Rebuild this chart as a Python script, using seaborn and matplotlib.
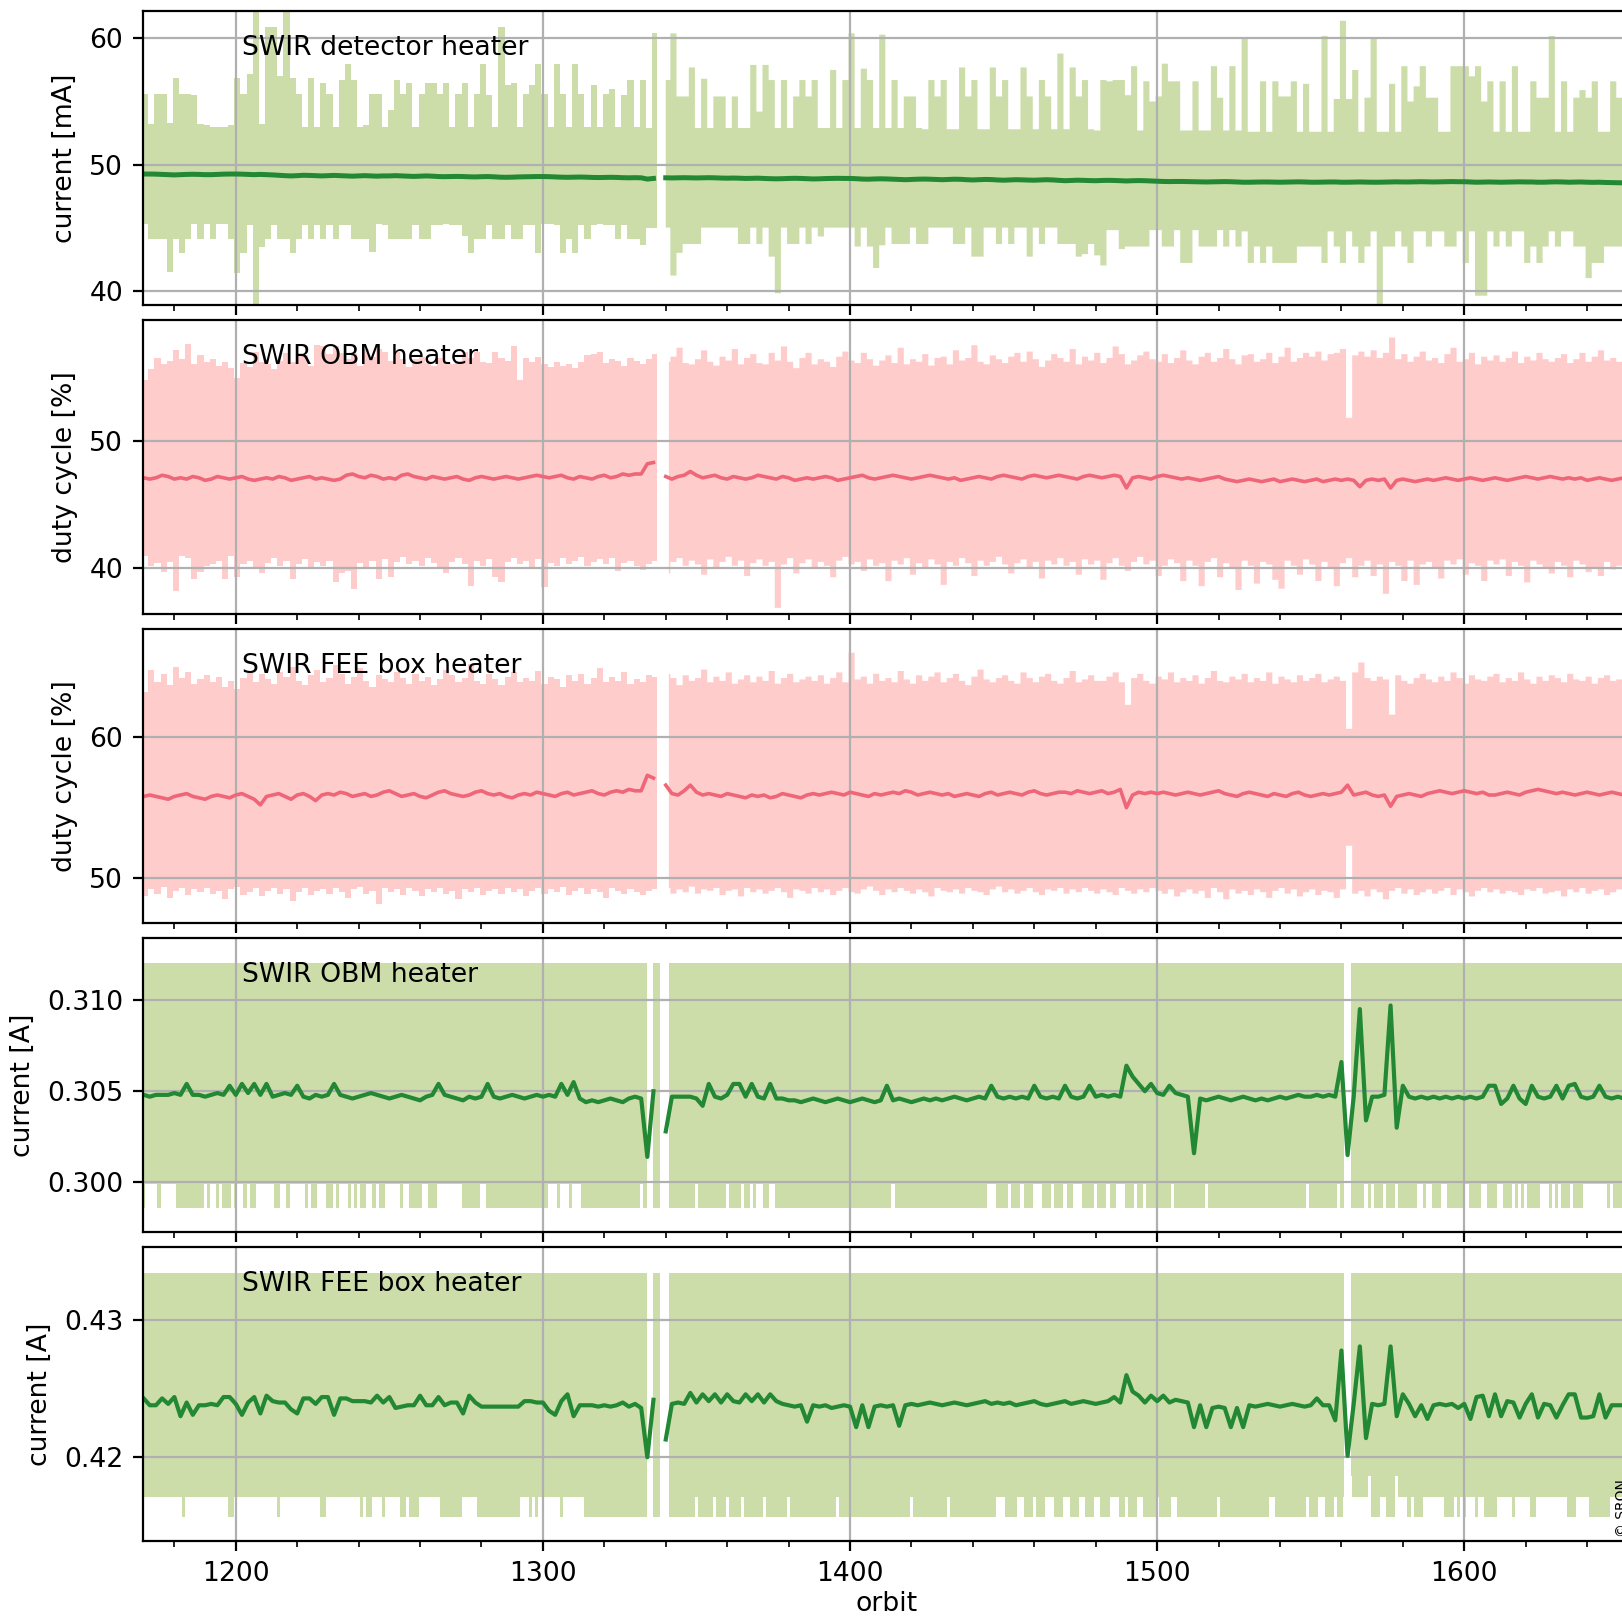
import numpy as np
import pandas as pd
import seaborn as sns
import matplotlib
matplotlib.use("Agg")
from matplotlib import pyplot as plt
from matplotlib.ticker import MultipleLocator

# values are given per orbit pair: 1170, 1172, ..., 1652
orbits = np.arange(1170, 1653, 2)

# SWIR detector heater current [mA]
p1_max = [
    55.6, 53.2, 55.6, 55.6, 53.3, 56.9, 55.6, 55.6, 55.5, 53.2,
    53.1, 53.0, 53.0, 53.0, 53.1, 56.9, 55.6, 57.2, 62.5, 53.2,
    60.9, 60.9, 57.0, 62.5, 56.9, 55.6, 53.0, 56.9, 53.0, 56.5,
    55.6, 53.0, 56.7, 58.0, 56.7, 53.0, 53.1, 55.6, 55.6, 53.0,
    54.3, 56.7, 55.6, 56.5, 53.0, 55.6, 56.5, 56.5, 55.6, 56.5,
    53.0, 55.6, 56.5, 53.0, 55.6, 58.0, 55.5, 53.0, 60.9, 56.3,
    56.5, 53.0, 55.6, 56.3, 58.0, 55.6, 53.0, 58.0, 55.6, 53.0,
    58.0, 55.6, 53.0, 56.3, 53.0, 55.6, 56.0, 53.0, 55.5, 56.7,
    53.0, 56.7, 52.9, 60.4, 52.9, 56.7, 60.4, 55.4, 55.4, 57.7,
    52.9, 56.8, 52.9, 55.4, 55.4, 52.9, 55.4, 52.9, 52.9, 57.9,
    54.2, 57.9, 56.7, 52.9, 56.7, 52.9, 55.4, 56.7, 55.4, 56.7,
    52.9, 52.9, 57.5, 52.9, 56.7, 60.4, 52.9, 57.6, 56.7, 52.9,
    60.3, 52.9, 56.7, 52.9, 55.4, 55.4, 52.9, 52.8, 56.7, 55.4,
    56.7, 52.8, 52.8, 57.7, 55.4, 56.7, 52.8, 52.8, 57.7, 55.4,
    56.7, 52.8, 52.8, 57.7, 55.4, 52.8, 56.7, 55.4, 52.8, 58.8,
    52.8, 57.7, 55.4, 56.7, 52.8, 52.7, 56.7, 56.6, 56.7, 56.7,
    55.5, 57.8, 52.7, 56.6, 55.0, 55.4, 58.0, 56.6, 56.6, 52.7,
    52.7, 56.6, 52.7, 52.7, 57.8, 55.3, 52.7, 57.8, 52.7, 60.1,
    52.6, 52.6, 56.6, 52.6, 56.6, 55.4, 55.4, 56.6, 52.6, 56.4,
    52.6, 52.6, 60.2, 52.6, 55.2, 61.4, 55.2, 57.5, 52.6, 55.3,
    60.1, 52.6, 52.6, 56.4, 52.6, 57.8, 55.0, 56.2, 57.8, 55.3,
    55.3, 52.6, 52.6, 57.8, 57.8, 57.8, 57.0, 57.8, 55.0, 56.6,
    52.6, 56.6, 52.6, 57.8, 52.6, 52.6, 56.6, 55.3, 55.3, 60.2,
    52.6, 56.6, 52.6, 55.3, 55.9, 55.3, 56.6, 52.6, 52.6, 56.6,
    55.3, 52.6,
]
p1_min = [
    45.3, 44.1, 44.1, 44.1, 41.5, 44.1, 43.0, 44.1, 45.3, 44.1,
    45.3, 44.1, 45.3, 45.3, 44.1, 41.4, 43.0, 45.2, 38.5, 43.5,
    44.1, 45.2, 44.1, 44.1, 43.0, 44.1, 45.2, 44.1, 45.2, 44.1,
    45.2, 44.1, 45.2, 45.2, 44.1, 44.1, 44.1, 43.1, 45.3, 45.2,
    44.1, 44.1, 44.1, 44.1, 45.2, 44.1, 44.1, 45.2, 45.2, 45.3,
    45.2, 45.2, 44.3, 43.0, 44.1, 44.1, 45.2, 44.1, 44.1, 45.2,
    44.1, 44.1, 45.2, 45.2, 43.0, 45.3, 45.3, 45.2, 43.0, 44.1,
    43.0, 45.2, 44.1, 45.2, 45.3, 45.2, 45.2, 44.1, 45.2, 44.1,
    44.1, 43.6, 45.0, 45.0, 45.0, 45.0, 41.2, 43.0, 43.7, 43.7,
    43.7, 45.0, 45.0, 45.0, 45.0, 45.0, 45.0, 43.7, 43.7, 45.0,
    43.7, 45.0, 42.7, 39.8, 45.0, 43.7, 43.7, 45.0, 43.7, 45.0,
    44.3, 45.0, 45.0, 45.0, 45.0, 45.0, 43.5, 45.0, 43.5, 41.8,
    43.6, 45.0, 43.7, 43.7, 43.7, 45.0, 43.7, 43.7, 45.0, 45.0,
    45.0, 45.0, 43.7, 43.7, 45.0, 42.7, 42.7, 45.0, 45.0, 43.7,
    45.0, 43.7, 45.0, 45.0, 42.7, 45.0, 43.7, 45.0, 45.0, 43.7,
    43.7, 43.7, 42.7, 42.9, 43.7, 42.8, 42.0, 44.8, 44.8, 43.3,
    43.5, 43.5, 43.5, 43.5, 44.8, 44.8, 43.5, 43.5, 44.8, 42.2,
    42.2, 44.8, 43.5, 43.5, 43.5, 44.8, 43.5, 44.8, 43.5, 44.7,
    42.2, 43.5, 42.2, 43.5, 42.2, 42.2, 42.2, 42.2, 43.5, 43.5,
    43.5, 43.5, 42.2, 44.7, 43.5, 42.2, 44.7, 43.5, 42.2, 43.5,
    44.7, 38.5, 43.5, 43.5, 44.7, 43.5, 42.2, 44.7, 44.7, 43.5,
    44.7, 44.7, 43.5, 43.5, 44.7, 42.2, 44.7, 39.6, 39.6, 44.7,
    43.5, 44.7, 43.5, 44.7, 44.7, 42.2, 43.5, 42.2, 43.5, 44.7,
    43.5, 44.7, 44.7, 43.5, 43.5, 41.0, 42.2, 42.2, 43.5, 43.5,
    43.5, 43.5,
]
p1_med = [
    49.25, 49.25, 49.24, 49.22, 49.2, 49.18, 49.2, 49.22, 49.23, 49.22,
    49.2, 49.2, 49.22, 49.24, 49.25, 49.25, 49.24, 49.22, 49.2, 49.22,
    49.2, 49.18, 49.15, 49.12, 49.1, 49.12, 49.15, 49.14, 49.12, 49.1,
    49.12, 49.14, 49.12, 49.1, 49.08, 49.1, 49.12, 49.1, 49.08, 49.1,
    49.1, 49.12, 49.1, 49.08, 49.06, 49.08, 49.1, 49.08, 49.05, 49.04,
    49.05, 49.06, 49.05, 49.03, 49.02, 49.04, 49.05, 49.03, 49.0, 48.99,
    49.0, 49.02, 49.03, 49.04, 49.05, 49.05, 49.04, 49.02, 49.0, 48.99,
    49.0, 49.01, 49.0, 48.98, 48.97, 48.98, 48.99, 48.98, 48.96, 48.95,
    48.96, 48.95, 48.85, 48.9, np.nan, 48.95, 48.94, 48.95, 48.96, 48.95,
    48.94, 48.95, 48.96, 48.95, 48.93, 48.92, 48.93, 48.92, 48.9, 48.91,
    48.92, 48.9, 48.88, 48.87, 48.88, 48.9, 48.91, 48.9, 48.88, 48.86,
    48.87, 48.89, 48.9, 48.91, 48.9, 48.9, 48.88, 48.85, 48.84, 48.86,
    48.87, 48.86, 48.84, 48.82, 48.8, 48.82, 48.84, 48.85, 48.84, 48.82,
    48.8, 48.82, 48.84, 48.83, 48.8, 48.78, 48.8, 48.82, 48.81, 48.78,
    48.76, 48.78, 48.8, 48.79, 48.77, 48.76, 48.78, 48.8, 48.78, 48.75,
    48.72, 48.74, 48.76, 48.75, 48.73, 48.72, 48.74, 48.75, 48.74, 48.72,
    48.7, 48.72, 48.73, 48.72, 48.7, 48.68, 48.66, 48.65, 48.66, 48.66,
    48.65, 48.64, 48.63, 48.62, 48.63, 48.64, 48.65, 48.64, 48.62, 48.6,
    48.6, 48.61, 48.62, 48.62, 48.61, 48.6, 48.61, 48.62, 48.63, 48.62,
    48.6, 48.6, 48.61, 48.62, 48.62, 48.6, 48.6, 48.61, 48.62, 48.61,
    48.6, 48.6, 48.61, 48.62, 48.63, 48.62, 48.62, 48.63, 48.64, 48.63,
    48.62, 48.63, 48.64, 48.65, 48.64, 48.64, 48.62, 48.6, 48.61, 48.62,
    48.61, 48.6, 48.61, 48.62, 48.63, 48.62, 48.62, 48.6, 48.6, 48.62,
    48.63, 48.62, 48.6, 48.61, 48.62, 48.6, 48.59, 48.6, 48.58, 48.57,
    48.56, 48.55,
]

# SWIR OBM heater duty cycle [%]
p2_max = [
    54.8, 55.6, 56.5, 56.0, 56.3, 57.1, 56.4, 57.6, 56.0, 56.7,
    56.2, 56.4, 55.9, 56.2, 55.7, 54.9, 56.1, 55.8, 57.0, 56.2,
    56.0, 55.6, 56.3, 56.9, 56.2, 56.9, 56.7, 55.9, 57.5, 57.4,
    56.8, 57.4, 56.9, 56.4, 56.9, 55.9, 57.2, 56.6, 57.2, 57.0,
    56.3, 57.0, 56.4, 55.8, 56.4, 56.6, 56.1, 55.9, 56.5, 56.1,
    56.0, 56.3, 57.0, 56.5, 57.0, 56.2, 56.1, 57.0, 56.5, 56.3,
    57.4, 54.8, 56.5, 56.2, 56.6, 56.0, 55.8, 56.2, 55.9, 56.0,
    55.7, 56.2, 56.7, 56.8, 57.0, 56.1, 56.4, 56.3, 55.9, 56.5,
    56.3, 56.0, 56.4, 56.8, 56.5, 56.2, 56.6, 57.3, 56.1, 56.0,
    56.4, 57.1, 56.2, 55.9, 56.6, 56.3, 57.2, 56.0, 56.5, 56.8,
    56.1, 56.0, 56.9, 56.3, 57.4, 56.2, 55.7, 56.5, 56.9, 56.0,
    56.4, 56.2, 55.8, 56.6, 57.0, 56.3, 56.1, 56.9, 56.4, 55.9,
    56.3, 56.7, 56.1, 57.3, 56.0, 56.4, 56.2, 56.8, 55.9, 56.5,
    56.6, 56.0, 57.1, 56.3, 56.5, 57.5, 56.2, 56.0, 56.7, 56.4,
    56.1, 56.6, 56.9, 56.2, 57.0, 56.4, 55.8, 56.3, 56.8, 56.5,
    56.2, 57.2, 56.0, 56.6, 56.3, 56.9, 56.1, 56.5, 57.4, 56.8,
    56.0, 56.3, 56.7, 57.0, 56.4, 56.2, 56.8, 56.1, 56.5, 57.1,
    56.3, 56.0, 56.6, 56.9, 56.2, 56.5, 57.2, 56.4, 56.0, 56.7,
    56.8, 56.2, 56.4, 56.9, 56.1, 56.6, 57.3, 56.2, 56.5, 56.9,
    56.6, 57.0, 56.3, 56.8, 56.9, 57.2, 51.8, 56.7, 57.0, 56.6,
    57.1, 56.5, 56.9, 58.1, 56.4, 56.8, 56.2, 56.6, 57.0, 56.3,
    56.5, 56.1, 56.8, 57.3, 56.2, 56.4, 56.9, 56.0, 56.6, 56.3,
    56.7, 56.2, 56.5, 57.0, 56.1, 56.6, 56.3, 56.9, 56.4, 56.2,
    56.5, 56.8, 56.1, 56.4, 56.9, 56.2, 56.6, 57.1, 56.3, 56.5,
    56.2, 56.6,
]
p2_min = [
    41.0, 40.2, 40.4, 39.7, 40.5, 38.2, 41.0, 40.8, 39.2, 39.7,
    40.2, 40.3, 40.6, 39.2, 41.0, 39.3, 40.3, 40.6, 40.1, 39.6,
    40.4, 40.8, 40.2, 40.6, 39.2, 40.3, 40.7, 40.1, 40.5, 40.2,
    40.6, 38.9, 39.6, 39.8, 38.4, 40.4, 40.1, 40.6, 39.2, 40.7,
    39.3, 40.5, 40.9, 40.3, 40.6, 40.2, 40.8, 40.4, 40.1, 39.6,
    40.5, 40.8, 40.3, 38.6, 40.6, 40.2, 40.7, 39.3, 38.9, 40.5,
    40.8, 40.3, 40.6, 40.1, 40.7, 38.5, 40.4, 40.2, 40.8, 40.3,
    40.6, 40.9, 40.2, 40.5, 40.7, 40.3, 40.8, 39.8, 40.4, 40.6,
    40.2, 39.9, 40.3, 40.6, 40.2, 39.6, 40.5, 40.8, 40.2, 40.6,
    40.3, 39.5, 40.7, 40.1, 40.5, 40.9, 40.2, 40.6, 39.4, 40.4,
    40.7, 40.2, 40.5, 36.9, 40.3, 40.8, 39.6, 40.4, 40.7, 40.1,
    40.5, 40.2, 39.3, 40.6, 40.9, 40.3, 40.5, 39.8, 40.7, 40.2,
    40.4, 39.0, 40.6, 40.3, 40.8, 39.5, 40.4, 40.1, 40.7, 40.3,
    38.7, 40.5, 40.2, 40.8, 40.4, 39.4, 40.6, 40.2, 40.5, 40.9,
    40.3, 39.6, 40.4, 40.7, 40.1, 40.5, 39.2, 40.6, 40.3, 40.8,
    40.2, 40.5, 39.5, 40.7, 40.3, 40.6, 39.1, 40.4, 40.8, 40.2,
    39.8, 40.5, 40.9, 40.3, 40.6, 39.4, 40.2, 40.7, 40.4, 39.0,
    40.6, 40.2, 38.6, 40.5, 40.8, 39.3, 40.4, 40.1, 38.3, 40.6,
    40.2, 38.8, 40.5, 40.3, 39.1, 38.4, 40.6, 40.2, 39.5, 40.7,
    40.3, 39.0, 40.5, 40.1, 38.6, 40.4, 40.8, 39.3, 40.2, 40.6,
    39.4, 40.3, 38.0, 40.5, 40.2, 39.0, 40.6, 38.7, 40.3, 40.5,
    40.1, 39.2, 40.6, 40.3, 40.7, 39.5, 40.4, 40.2, 39.0, 40.6,
    40.3, 40.7, 39.4, 40.5, 40.2, 38.9, 40.6, 40.3, 40.1, 39.6,
    40.5, 40.2, 39.3, 40.6, 40.3, 39.7, 40.1, 39.4, 40.5, 39.9,
    40.2, 39.5,
]
p2_med = [
    47.1, 47.0, 47.1, 47.3, 47.2, 47.0, 47.1, 47.0, 47.2, 47.1,
    46.9, 47.0, 47.2, 47.1, 47.0, 47.1, 47.2, 47.0, 46.9, 47.0,
    47.1, 47.0, 47.2, 47.1, 46.9, 47.0, 47.1, 47.2, 47.0, 47.1,
    47.0, 46.9, 47.0, 47.3, 47.4, 47.2, 47.1, 47.3, 47.2, 47.0,
    47.1, 47.0, 47.3, 47.4, 47.2, 47.1, 47.0, 47.2, 47.1, 47.0,
    47.1, 47.2, 47.0, 46.9, 47.1, 47.2, 47.1, 47.0, 47.1, 47.2,
    47.1, 47.0, 47.1, 47.2, 47.3, 47.2, 47.1, 47.2, 47.3, 47.1,
    47.0, 47.2, 47.1, 47.0, 47.2, 47.3, 47.1, 47.2, 47.4, 47.3,
    47.4, 47.4, 48.2, 48.3, np.nan, 47.2, 47.0, 47.2, 47.3, 47.6,
    47.3, 47.1, 47.2, 47.3, 47.1, 47.0, 47.2, 47.1, 47.0, 47.1,
    47.3, 47.2, 47.1, 47.0, 47.2, 47.1, 46.9, 47.0, 47.1, 47.0,
    47.1, 47.2, 47.1, 46.9, 47.0, 47.1, 47.2, 47.3, 47.1, 47.0,
    47.1, 47.2, 47.3, 47.2, 47.1, 47.0, 47.1, 47.2, 47.3, 47.2,
    47.1, 47.0, 47.1, 46.9, 47.0, 47.1, 47.2, 47.1, 47.0, 47.2,
    47.3, 47.2, 47.1, 47.0, 47.2, 47.3, 47.2, 47.1, 47.2, 47.3,
    47.2, 47.1, 47.0, 47.2, 47.3, 47.2, 47.1, 47.2, 47.3, 47.2,
    46.3, 47.1, 47.2, 47.1, 47.0, 47.2, 47.3, 47.2, 47.1, 47.0,
    47.1, 47.0, 46.9, 47.0, 47.1, 47.2, 47.0, 46.9, 46.8, 46.9,
    47.0, 46.9, 46.8, 46.9, 47.0, 46.8, 46.9, 47.0, 46.9, 46.8,
    46.9, 47.0, 46.8, 46.9, 47.0, 46.9, 47.0, 46.9, 46.4, 46.9,
    47.0, 46.9, 47.0, 46.3, 46.9, 47.0, 46.9, 46.8, 46.9, 47.0,
    46.9, 47.0, 47.1, 47.0, 46.9, 47.0, 47.1, 47.0, 46.9, 47.0,
    47.1, 47.0, 46.9, 47.0, 47.1, 47.2, 47.1, 47.0, 47.1, 47.2,
    47.1, 47.0, 47.1, 47.0, 47.1, 46.9, 47.0, 47.1, 47.0, 46.9,
    47.0, 47.1,
]

# SWIR FEE box heater duty cycle [%]
p3_max = [
    63.2, 64.8, 63.9, 64.5, 63.7, 65.0, 64.2, 64.6, 63.8, 64.1,
    64.4, 63.9, 64.3, 63.6, 64.0, 63.4, 64.2, 64.7, 63.9, 64.5,
    64.1, 63.8, 64.6, 64.3, 65.0, 64.0, 63.7, 64.4, 64.8, 63.9,
    64.2, 65.1, 64.5, 63.8, 64.3, 64.9, 64.0, 63.6, 64.4, 64.1,
    63.9, 64.6, 64.2, 63.8, 64.5, 64.0, 64.3, 63.7, 64.1, 64.8,
    64.4, 63.9, 64.2, 65.2, 64.0, 63.8, 64.5, 64.1, 63.7, 64.3,
    64.6, 63.9, 64.2, 64.0, 64.7, 63.8, 64.3, 64.1, 63.6, 64.4,
    64.0, 64.5, 63.8, 64.2, 64.9, 63.9, 64.3, 64.0, 64.6, 63.8,
    64.1, 63.9, 64.4, 64.3, 64.0, 64.5, 64.2, 63.7, 64.4, 64.0,
    64.2, 64.8, 63.9, 64.3, 64.0, 64.6, 63.8, 64.1, 64.4, 63.9,
    64.3, 64.0, 64.7, 63.8, 64.2, 64.5, 63.9, 64.1, 64.3, 64.0,
    64.4, 63.8, 64.2, 64.6, 63.9, 66.0, 64.1, 64.3, 63.8, 64.5,
    64.0, 64.2, 63.9, 64.7, 64.1, 63.8, 64.4, 64.0, 64.3, 64.6,
    63.9, 64.2, 64.5, 64.0, 63.7, 64.3, 64.8, 64.1, 63.9, 64.2,
    64.4, 64.0, 63.8, 64.6, 64.2, 63.9, 64.3, 64.5, 64.0, 63.8,
    64.2, 64.7, 63.9, 64.1, 64.4, 64.0, 64.0, 64.3, 64.6, 63.9,
    62.3, 64.2, 64.5, 64.0, 63.8, 64.3, 64.1, 64.6, 63.9, 64.2,
    64.0, 64.4, 63.8, 64.2, 64.7, 64.0, 63.9, 64.3, 64.1, 64.5,
    63.9, 64.2, 64.0, 64.6, 63.8, 64.3, 64.1, 63.9, 64.4, 64.0,
    64.2, 64.5, 63.9, 64.1, 64.3, 64.0, 60.6, 64.6, 65.3, 64.2,
    64.0, 64.3, 64.1, 61.6, 64.4, 64.0, 63.8, 64.2, 64.5, 64.1,
    63.9, 64.3, 64.0, 64.6, 64.2, 63.8, 64.4, 64.1, 64.0, 64.3,
    64.5, 63.9, 64.2, 64.0, 64.6, 64.1, 63.8, 64.3, 64.0, 64.4,
    64.2, 63.9, 64.5, 64.1, 64.0, 64.3, 63.8, 64.2, 64.4, 64.0,
    64.1, 64.3,
]
p3_min = [
    48.7, 49.2, 48.9, 49.4, 48.6, 49.1, 49.3, 48.8, 49.2, 49.0,
    49.3, 48.9, 49.1, 48.5, 49.2, 49.4, 48.8, 49.0, 49.3, 48.7,
    49.1, 49.3, 48.9, 49.2, 48.4, 49.0, 49.3, 48.8, 49.1, 49.2,
    48.9, 49.3, 49.0, 48.6, 49.2, 49.4, 48.9, 49.1, 48.2, 49.3,
    49.0, 49.2, 48.8, 49.3, 49.1, 48.7, 49.2, 49.0, 49.3, 48.9,
    49.1, 48.5, 49.2, 49.0, 49.3, 48.8, 49.1, 49.2, 48.9, 49.3,
    49.0, 49.2, 48.7, 49.1, 49.3, 48.9, 49.2, 49.0, 49.4, 48.8,
    49.1, 49.3, 48.9, 49.2, 49.0, 48.6, 49.3, 49.1, 48.9, 49.2,
    49.0, 48.8, 49.1, 49.2, 49.1, 49.3, 48.9, 49.2, 49.0, 49.4,
    48.9, 49.2, 49.1, 49.3, 48.8, 49.1, 49.2, 48.7, 49.3, 49.0,
    49.2, 48.9, 49.1, 49.3, 49.0, 48.6, 49.2, 49.1, 48.9, 49.3,
    49.0, 49.2, 48.8, 49.1, 49.3, 49.0, 48.9, 49.2, 49.4, 49.1,
    48.8, 49.2, 49.0, 49.3, 49.1, 48.9, 49.2, 49.0, 48.7, 49.3,
    49.1, 49.0, 49.2, 48.9, 49.3, 49.1, 49.0, 48.8, 49.2, 49.4,
    49.0, 49.2, 48.9, 49.1, 49.3, 49.0, 48.8, 49.2, 49.1, 49.3,
    48.9, 49.2, 49.0, 49.3, 49.1, 48.9, 49.2, 49.0, 48.8, 49.3,
    49.1, 48.9, 49.2, 49.0, 49.3, 49.1, 48.9, 49.2, 48.7, 49.0,
    49.2, 48.9, 49.1, 48.6, 49.3, 49.0, 48.5, 49.2, 48.9, 49.1,
    48.8, 49.2, 49.0, 48.6, 49.1, 49.3, 48.9, 49.2, 48.7, 49.0,
    49.2, 48.8, 49.1, 49.0, 48.6, 49.2, 52.3, 48.9, 49.1, 48.7,
    49.2, 49.0, 48.5, 49.1, 49.3, 48.9, 49.2, 48.8, 49.0, 49.2,
    48.9, 49.1, 49.3, 48.8, 49.2, 49.0, 48.7, 49.1, 49.3, 49.0,
    49.2, 48.9, 49.1, 49.0, 48.8, 49.2, 49.1, 49.3, 48.9, 49.0,
    49.1, 48.7, 49.2, 49.0, 49.3, 48.9, 49.1, 49.2, 48.8, 49.0,
    49.2, 49.0,
]
p3_med = [
    55.8, 55.9, 55.8, 55.7, 55.6, 55.8, 55.9, 56.0, 55.8, 55.7,
    55.6, 55.8, 55.9, 55.8, 55.7, 55.9, 56.0, 55.8, 55.6, 55.2,
    55.8, 55.9, 56.0, 55.8, 55.6, 55.9, 56.0, 55.8, 55.5, 55.9,
    56.0, 55.9, 56.1, 56.0, 55.8, 55.9, 56.0, 55.8, 55.9, 56.1,
    56.2, 56.0, 55.8, 55.9, 56.0, 55.8, 55.7, 55.9, 56.1, 56.2,
    56.0, 55.9, 55.8, 55.9, 56.1, 56.2, 56.0, 55.9, 56.0, 55.8,
    55.7, 55.9, 56.0, 55.9, 56.1, 56.0, 55.9, 55.8, 56.0, 56.1,
    55.9, 56.0, 56.1, 56.2, 56.0, 55.9, 56.1, 56.2, 56.1, 56.3,
    56.2, 56.2, 57.3, 57.1, np.nan, 56.6, 56.0, 55.9, 56.2, 56.6,
    56.1, 55.9, 56.0, 55.9, 55.8, 56.0, 55.9, 55.8, 55.7, 55.9,
    55.8, 55.9, 55.7, 55.8, 56.0, 55.9, 55.8, 55.7, 55.9, 56.0,
    55.9, 56.0, 56.1, 56.0, 55.9, 56.1, 56.0, 55.9, 55.8, 56.0,
    55.9, 56.0, 56.1, 56.0, 56.2, 56.1, 55.9, 56.0, 56.1, 56.0,
    55.9, 56.0, 55.8, 55.9, 56.0, 55.9, 55.8, 56.0, 56.1, 55.9,
    56.0, 56.1, 56.0, 55.9, 56.1, 56.2, 56.0, 55.9, 56.0, 56.1,
    56.1, 56.0, 56.2, 56.1, 56.0, 56.1, 56.2, 56.0, 56.1, 56.3,
    55.0, 55.9, 56.1, 56.0, 56.1, 56.0, 56.1, 56.0, 55.9, 56.0,
    56.1, 56.0, 55.9, 56.0, 56.1, 56.2, 56.0, 55.9, 55.8, 56.0,
    56.1, 56.0, 55.9, 55.8, 56.0, 55.9, 55.8, 56.0, 56.1, 55.9,
    55.8, 55.9, 56.0, 55.9, 56.0, 56.1, 56.6, 55.9, 56.0, 56.1,
    55.9, 55.8, 55.9, 55.1, 55.8, 55.9, 56.0, 55.9, 55.8, 56.0,
    56.1, 56.2, 56.1, 56.0, 56.1, 56.2, 56.1, 56.0, 56.1, 55.9,
    55.9, 56.0, 56.1, 56.0, 55.9, 56.1, 56.2, 56.3, 56.2, 56.1,
    56.0, 56.1, 56.0, 55.9, 56.0, 56.1, 56.0, 55.9, 56.0, 56.1,
    56.0, 55.9,
]

# SWIR OBM heater current [A]
p4_max_level = 0.3120
p4_min_levels = (0.2986, 0.2999)
p4_notches = [
    (1171, 1174), (1176, 1180), (1190, 1190), (1192, 1193), (1195, 1195),
    (1199, 1199), (1201, 1202), (1204, 1204), (1207, 1212), (1215, 1216),
    (1218, 1222), (1224, 1224), (1227, 1229), (1232, 1232), (1234, 1236),
    (1238, 1238), (1240, 1240), (1243, 1244), (1246, 1246), (1249, 1253),
    (1255, 1256), (1261, 1262), (1266, 1273), (1280, 1281), (1302, 1304),
    (1306, 1308), (1310, 1312), (1332, 1332), (1350, 1350), (1360, 1360),
    (1365, 1365), (1368, 1368), (1370, 1371), (1374, 1375), (1414, 1414),
    (1445, 1447), (1452, 1452), (1456, 1456), (1460, 1462), (1466, 1466),
    (1470, 1470), (1473, 1475), (1480, 1480), (1484, 1484), (1487, 1489),
    (1493, 1493), (1496, 1496), (1505, 1505), (1516, 1516), (1549, 1549),
    (1559, 1559), (1568, 1568), (1570, 1570), (1574, 1574), (1578, 1578),
    (1585, 1586), (1588, 1589), (1593, 1594), (1600, 1601), (1606, 1607),
    (1611, 1612), (1616, 1616), (1618, 1618), (1620, 1620), (1625, 1627),
    (1629, 1629), (1631, 1631), (1635, 1635), (1639, 1646), (1648, 1648),
]
p4_med = [
    .3048, .3047, .3048, .3048, .3048, .3049, .3048, .3054, .3048, .3048,
    .3047, .3048, .3049, .3048, .3053, .3048, .3054, .3049, .3054, .3048,
    .3054, .3047, .3048, .3049, .3048, .3053, .3047, .3046, .3048, .3047,
    .3048, .3054, .3048, .3047, .3046, .3047, .3048, .3049, .3048, .3047,
    .3046, .3047, .3048, .3047, .3046, .3045, .3047, .3048, .3054, .3048,
    .3047, .3046, .3045, .3047, .3046, .3047, .3054, .3047, .3046, .3047,
    .3048, .3047, .3046, .3047, .3048, .3047, .3048, .3047, .3054, .3048,
    .3055, .3046, .3044, .3045, .3044, .3045, .3046, .3045, .3044, .3046,
    .3047, .3046, .3014, .3050, np.nan, .3028, .3047, .3047, .3047, .3047,
    .3046, .3042, .3054, .3047, .3046, .3048, .3054, .3054, .3047, .3054,
    .3047, .3046, .3054, .3046, .3046, .3045, .3045, .3044, .3045, .3046,
    .3045, .3044, .3045, .3046, .3045, .3044, .3045, .3046, .3045, .3044,
    .3045, .3053, .3045, .3046, .3045, .3044, .3045, .3046, .3045, .3046,
    .3045, .3046, .3047, .3046, .3045, .3046, .3047, .3046, .3053, .3047,
    .3046, .3047, .3046, .3047, .3046, .3053, .3047, .3046, .3047, .3046,
    .3053, .3047, .3046, .3047, .3053, .3047, .3048, .3047, .3048, .3047,
    .3064, .3058, .3054, .3050, .3054, .3049, .3048, .3053, .3049, .3048,
    .3047, .3016, .3046, .3045, .3046, .3047, .3046, .3045, .3046, .3047,
    .3046, .3045, .3046, .3045, .3046, .3047, .3046, .3047, .3048, .3047,
    .3047, .3048, .3047, .3048, .3047, .3066, .3015, .3047, .3095, .3034,
    .3047, .3047, .3048, .3097, .3030, .3053, .3047, .3046, .3047, .3046,
    .3047, .3046, .3047, .3046, .3047, .3046, .3047, .3046, .3047, .3053,
    .3053, .3043, .3046, .3053, .3046, .3043, .3053, .3047, .3046, .3047,
    .3053, .3046, .3053, .3054, .3047, .3046, .3047, .3053, .3047, .3046,
    .3047, .3046,
]

# SWIR FEE box heater current [A]
p5_max_level = 0.4335
p5_min_levels = (0.4156, 0.4171)
p5_tall_level = 0.4186
p5_tall_notches = [1563, 1569, 1578]
p5_notches = [
    (1170, 1182), (1184, 1197), (1200, 1213), (1215, 1227), (1230, 1240),
    (1242, 1242), (1245, 1247), (1249, 1253), (1256, 1256), (1260, 1266),
    (1274, 1278), (1293, 1295), (1297, 1297), (1299, 1305), (1307, 1313),
    (1350, 1350), (1356, 1356), (1360, 1360), (1365, 1365), (1372, 1372),
    (1380, 1380), (1396, 1396), (1420, 1420), (1432, 1432), (1448, 1450),
    (1455, 1456), (1460, 1460), (1464, 1466), (1470, 1471), (1475, 1476),
    (1480, 1481), (1485, 1487), (1490, 1490), (1494, 1495), (1500, 1500),
    (1505, 1506), (1520, 1520), (1537, 1538), (1549, 1549), (1553, 1554),
    (1558, 1558), (1561, 1561), (1564, 1568), (1573, 1574), (1578, 1581),
    (1583, 1583), (1587, 1593), (1597, 1597), (1599, 1599), (1601, 1603),
    (1605, 1606), (1611, 1615), (1617, 1621), (1624, 1633), (1637, 1640),
    (1648, 1652),
]
p5_med = [
    .4243, .4238, .4238, .4243, .4239, .4244, .4230, .4240, .4231, .4238,
    .4238, .4239, .4238, .4244, .4244, .4239, .4231, .4240, .4244, .4232,
    .4245, .4241, .4240, .4240, .4235, .4232, .4243, .4243, .4239, .4244,
    .4244, .4231, .4243, .4243, .4241, .4241, .4241, .4240, .4245, .4240,
    .4244, .4236, .4237, .4238, .4238, .4245, .4238, .4238, .4244, .4238,
    .4240, .4240, .4232, .4245, .4240, .4237, .4237, .4237, .4237, .4237,
    .4237, .4237, .4241, .4241, .4240, .4240, .4234, .4231, .4241, .4246,
    .4230, .4238, .4238, .4238, .4237, .4238, .4237, .4238, .4240, .4237,
    .4239, .4236, .4200, .4242, np.nan, .4213, .4239, .4240, .4239, .4247,
    .4240, .4246, .4241, .4246, .4240, .4246, .4241, .4240, .4246, .4241,
    .4246, .4240, .4246, .4241, .4239, .4238, .4237, .4238, .4226, .4238,
    .4237, .4238, .4236, .4237, .4238, .4237, .4222, .4238, .4222, .4237,
    .4238, .4237, .4238, .4223, .4238, .4239, .4238, .4239, .4240, .4239,
    .4238, .4239, .4240, .4239, .4238, .4239, .4240, .4241, .4239, .4240,
    .4239, .4240, .4238, .4239, .4240, .4241, .4239, .4238, .4239, .4240,
    .4241, .4239, .4240, .4241, .4240, .4239, .4240, .4241, .4244, .4240,
    .4260, .4248, .4245, .4240, .4245, .4241, .4245, .4240, .4242, .4241,
    .4240, .4222, .4238, .4222, .4236, .4237, .4236, .4222, .4236, .4222,
    .4238, .4237, .4238, .4239, .4238, .4237, .4238, .4239, .4238, .4237,
    .4238, .4243, .4238, .4238, .4227, .4278, .4201, .4239, .4281, .4214,
    .4239, .4238, .4239, .4281, .4230, .4246, .4239, .4230, .4238, .4228,
    .4238, .4239, .4238, .4239, .4236, .4239, .4228, .4244, .4245, .4230,
    .4246, .4230, .4241, .4240, .4229, .4239, .4246, .4229, .4239, .4238,
    .4229, .4238, .4246, .4246, .4229, .4229, .4230, .4246, .4229, .4238,
    .4238, .4238,
]

# orbits without housekeeping data in the range bands
gaps_det = [1338, 1339]
gaps_duty = [1338, 1339, 1340]
gaps_cur = [1335, 1339, 1340, 1562]

titles = ["SWIR detector heater", "SWIR OBM heater", "SWIR FEE box heater",
          "SWIR OBM heater", "SWIR FEE box heater"]
ylabels = ["current [mA]", "duty cycle [%]", "duty cycle [%]",
           "current [A]", "current [A]"]
ylims = [(38.85, 62.2), (36.4, 59.5), (46.8, 67.7),
         (0.29727, 0.31341), (0.41386, 0.43538)]
ysteps = [10, 10, 10, 0.005, 0.01]
line_widths = [1.8, 1.3, 1.3, 1.5, 1.5]

GREEN_FILL, GREEN_LINE = "#CCDDAA", "#228833"
RED_FILL, RED_LINE = "#FFCCCC", "#EE6677"
FS = 9.6

for lst in (p1_max, p1_min, p1_med, p2_max, p2_min, p2_med,
            p3_max, p3_min, p3_med, p4_med, p5_med):
    assert len(lst) == len(orbits), len(lst)

# per-orbit grid for the range bands (each value holds for its orbit pair)
orbit1 = np.arange(1170, 1654)


def per_orbit(values, gaps):
    arr = np.repeat(np.asarray(values, float), 2)
    arr[np.isin(orbit1, gaps)] = np.nan
    return arr


def level_band(levels, notches, gaps, tall=(), tall_level=None):
    arr = np.full(orbit1.shape, levels[0])
    for a, b in notches:
        arr[(orbit1 >= a) & (orbit1 <= b)] = levels[1]
    if tall_level is not None:
        arr[np.isin(orbit1, tall)] = tall_level
    arr[np.isin(orbit1, gaps)] = np.nan
    return arr


def const_band(level, gaps):
    arr = np.full(orbit1.shape, level)
    arr[np.isin(orbit1, gaps)] = np.nan
    return arr


bands = [
    (per_orbit(p1_min, gaps_det), per_orbit(p1_max, gaps_det), p1_med, GREEN_FILL, GREEN_LINE),
    (per_orbit(p2_min, gaps_duty), per_orbit(p2_max, gaps_duty), p2_med, RED_FILL, RED_LINE),
    (per_orbit(p3_min, gaps_duty), per_orbit(p3_max, gaps_duty), p3_med, RED_FILL, RED_LINE),
    (level_band(p4_min_levels, p4_notches, gaps_cur), const_band(p4_max_level, gaps_cur),
     p4_med, GREEN_FILL, GREEN_LINE),
    (level_band(p5_min_levels, p5_notches, gaps_cur, p5_tall_notches, p5_tall_level),
     const_band(p5_max_level, gaps_cur), p5_med, GREEN_FILL, GREEN_LINE),
]

fig = plt.figure(figsize=(8.11, 8.11), dpi=200)
axes = []
for i, (lo, hi, med, fcol, lcol) in enumerate(bands):
    ax = fig.add_axes([0.088, 0.81184 - i * 0.19052, 0.917, 0.18157],
                      sharex=axes[0] if axes else None)
    axes.append(ax)
    ax.fill_between(orbit1, lo, hi, step="mid", color=fcol, linewidth=0)

    df = pd.DataFrame({"orbit": orbits, "value": med})
    df["segment"] = df["value"].isna().cumsum()
    df = df.dropna()
    sns.lineplot(data=df, x="orbit", y="value", units="segment", estimator=None,
                 color=lcol, linewidth=line_widths[i], ax=ax, legend=False)

    ax.set_ylim(*ylims[i])
    ax.yaxis.set_major_locator(MultipleLocator(ysteps[i]))
    ax.grid(True, color="#b0b0b0", linewidth=0.8)
    ax.set_ylabel(ylabels[i], fontsize=FS)
    ax.set_xlabel("")
    ax.tick_params(labelsize=FS)
    ax.tick_params(axis="x", which="both", labelbottom=(i == 4))
    ax.text(0.0668, 0.875, titles[i], transform=ax.transAxes, fontsize=FS,
            ha="left", va="center")

axes[0].set_xlim(1169.7, 1654)
axes[0].xaxis.set_major_locator(MultipleLocator(100))
axes[0].xaxis.set_minor_locator(MultipleLocator(20))
axes[-1].set_xlabel("orbit", fontsize=FS, labelpad=1.5)

fig.text(0.9955, 0.0524, "\u00a9 SRON", rotation=90, fontsize=5,
         ha="left", va="bottom")

fig.savefig("out.png", dpi=200)
